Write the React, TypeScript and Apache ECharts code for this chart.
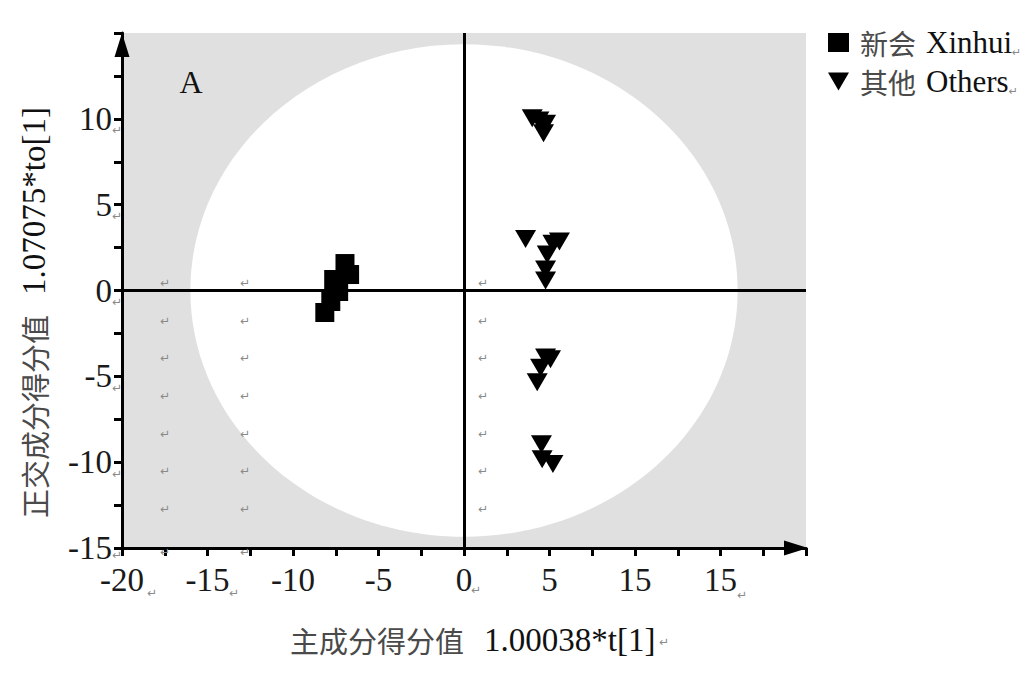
import React, { useEffect, useRef } from 'react';
import * as echarts from 'echarts';

// Tick labels (as printed in the source figure, including its duplicated "15")
const xTickLabels = ['-20', '-15', '-10', '-5', '0', '5', '15', '15', ''];
const yTickLabels = ['-15', '-10', '-5', '0', '5', '10', ''];

// 新会 Xinhui scores: t[1], to[1]
const xinhuiT = [-6.96, -6.69, -7.62, -7.33, -7.79, -8.14];
const xinhuiTo = [1.57, 0.93, 0.64, -0.06, -0.64, -1.28];

// 其他 Others scores: t[1], to[1]
const othersT = [3.99, 4.38, 4.77, 4.65, 3.6, 5.58, 5.2, 4.87, 4.77, 4.77, 4.77, 5.06, 4.48, 4.28, 4.53, 4.57, 5.2];
const othersTo = [10.04, 9.9, 9.71, 9.16, 3.0, 2.85, 2.73, 2.09, 1.22, 0.58, -3.9, -4.0, -4.5, -5.35, -8.95, -9.83, -10.1];

// Hotelling T2 ellipse semi-axes
const ellipseT = [16.0];
const ellipseTo = [14.35];

const seriesNames = ['新会 Xinhui', '其他 Others'];

const SERIF = '"Liberation Serif", "Times New Roman", serif';
const CJK = '"Noto Sans CJK SC", sans-serif';
const triPath = 'path://M0,0L20,0L10,17Z';

const richText = {
  cn: { fontFamily: CJK, fontSize: 29, fill: '#4a4a4a', color: '#4a4a4a' },
  sp: { width: 20, fontSize: 10 },
  en: { fontFamily: SERIF, fontSize: 33, fill: '#111', color: '#111' },
  m: { fontFamily: '"DejaVu Sans"', fontSize: 12, fill: '#888', color: '#888', verticalAlign: 'bottom' },
};

// decorative paragraph marks present in the source image
const marks: [number, number][] = [
  [165, 283], [165, 321], [165, 358], [165, 396], [165, 434], [165, 471], [165, 509], [165, 552],
  [245, 283], [245, 321], [245, 358], [245, 396], [245, 434], [245, 471], [245, 509], [245, 552],
  [483, 283], [483, 321], [483, 358], [483, 396], [483, 434], [483, 471], [483, 509],
  [117, 130], [117, 216], [117, 302], [117, 388], [117, 474], [117, 555],
  [152, 593], [234, 593], [476, 590], [742, 595], [664, 642],
];

export default function App() {
  const ref = useRef<HTMLDivElement>(null);
  useEffect(() => {
    const chart = echarts.init(ref.current!, null, { renderer: 'svg' });
    const xinhuiData = xinhuiT.map((t, i) => [t, xinhuiTo[i]]);
    const othersData = othersT.map((t, i) => [t, othersTo[i]]);
    const axisLineStyle = { color: '#000', width: 3 };
    chart.setOption({
      animation: false,
      backgroundColor: '#fff',
      grid: {
        left: 122, top: 33, width: 684, height: 515,
        show: true, backgroundColor: '#e0e0e0', borderWidth: 0,
      },
      legend: {
        orient: 'vertical', left: 823, top: 22, itemGap: 8,
        itemWidth: 21, itemHeight: 19,
        data: [
          { name: seriesNames[0], icon: 'rect' },
          { name: seriesNames[1], icon: triPath },
        ],
        formatter: (name: string) => {
          const [cn, en] = name.split(' ');
          return `{cn|${cn}}{sp| }{en|${en}}{m|↵}`;
        },
        textStyle: {
          rich: {
            cn: { fontFamily: CJK, fontSize: 28, color: '#4a4a4a', padding: [0, 0, 0, 6] },
            sp: { width: 10, fontSize: 10 },
            en: { fontFamily: SERIF, fontSize: 31, color: '#111' },
            m: { fontFamily: '"DejaVu Sans"', fontSize: 11, color: '#888', verticalAlign: 'bottom' },
          },
        },
      },
      xAxis: {
        type: 'value', min: -20, max: 20, interval: 5,
        axisLine: { show: true, onZero: false, lineStyle: axisLineStyle, symbol: ['none', 'triangle'], symbolSize: [15, 24], symbolOffset: [0, -10] },
        axisTick: { show: true, length: 8, lineStyle: { color: '#000', width: 3 } },
        minorTick: { show: true, splitNumber: 2, length: 8, lineStyle: { color: '#000', width: 3 } },
        splitLine: { show: false },
        axisLabel: {
          margin: 15, fontSize: 33, fontFamily: SERIF, color: '#1a1a1a',
          formatter: (v: number) => xTickLabels[Math.round((v + 20) / 5)] ?? '',
        },
      },
      yAxis: {
        type: 'value', min: -15, max: 15, interval: 5,
        axisLine: { show: true, onZero: false, lineStyle: axisLineStyle, symbol: ['none', 'triangle'], symbolSize: [15, 24], symbolOffset: [0, -12] },
        axisTick: { show: true, length: 8, lineStyle: { color: '#000', width: 3 } },
        minorTick: { show: true, splitNumber: 2, length: 8, lineStyle: { color: '#000', width: 3 } },
        splitLine: { show: false },
        axisLabel: {
          margin: 10, fontSize: 33, fontFamily: SERIF, color: '#1a1a1a',
          formatter: (v: number) => yTickLabels[Math.round((v + 15) / 5)] ?? '',
        },
      },
      series: [
        {
          type: 'custom',
          coordinateSystem: 'cartesian2d',
          silent: true,
          z: 1,
          data: ellipseT.map((rx, i) => [0, 0, rx, ellipseTo[i]]),
          renderItem: (_p: any, api: any) => {
            const c = api.coord([api.value(0), api.value(1)]);
            const s = api.size([api.value(2), api.value(3)]);
            return {
              type: 'ellipse',
              shape: { cx: c[0], cy: c[1], rx: s[0], ry: s[1] },
              style: { fill: '#ffffff', stroke: null },
            };
          },
        },
        {
          name: seriesNames[0],
          type: 'scatter',
          z: 3,
          symbol: 'rect',
          symbolSize: 19,
          itemStyle: { color: '#000', opacity: 1 },
          data: xinhuiData,
          markLine: {
            silent: true,
            symbol: ['none', 'none'],
            label: { show: false },
            lineStyle: { color: '#000', width: 3, type: 'solid' },
            emphasis: { disabled: true },
            data: [{ xAxis: 0 }, { yAxis: 0 }],
          },
        },
        {
          name: seriesNames[1],
          type: 'scatter',
          z: 3,
          symbol: triPath,
          symbolSize: [21, 18],
          itemStyle: { color: '#000', opacity: 1 },
          data: othersData,
        },
      ],
      graphic: [
        {
          type: 'text', x: 191, y: 82, z: 100,
          style: { text: 'A', font: `32px ${SERIF}`, fill: '#111', align: 'center', verticalAlign: 'middle' },
        },
        {
          type: 'text', x: 34, y: 518, rotation: Math.PI / 2, z: 100,
          style: {
            text: '{cn|正交成分得分值}{sp| }{en|1.07075*to[1]}',
            rich: richText, align: 'left', verticalAlign: 'middle',
          },
        },
        {
          type: 'text', x: 290, y: 640, z: 100,
          style: {
            text: '{cn|主成分得分值}{sp| }{en|1.00038*t[1]}',
            rich: richText, align: 'left', verticalAlign: 'middle',
          },
        },
        ...marks.map(([x, y]) => ({
          type: 'text', x, y, z: 100, silent: true,
          style: { text: '↵', font: '12px "DejaVu Sans"', fill: '#8a8a8a', align: 'center', verticalAlign: 'middle' },
        })),
      ],
    });
    return () => chart.dispose();
  }, []);
  return <div ref={ref} style={{ position: 'absolute', left: 0, top: 0, width: 1027, height: 682 }} />;
}
